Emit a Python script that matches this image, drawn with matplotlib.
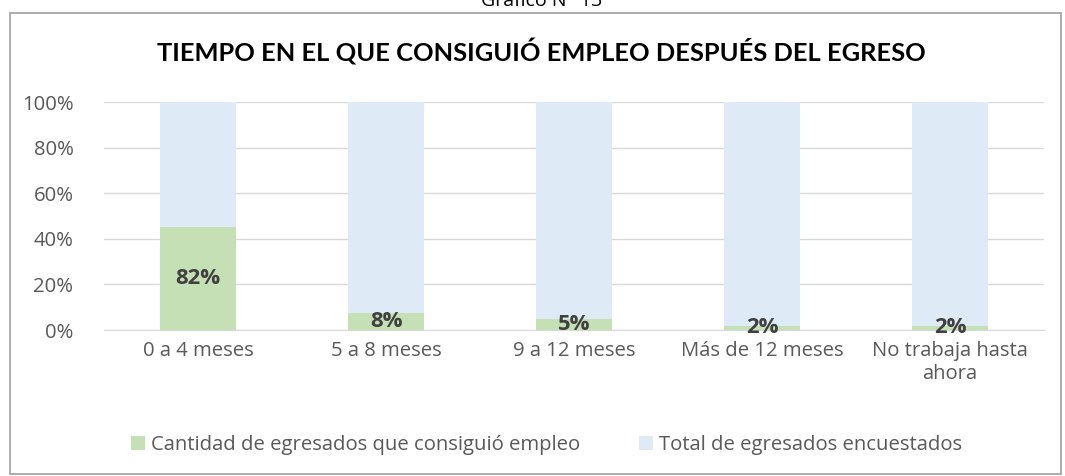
import numpy as np
import matplotlib.pyplot as plt
from matplotlib.patches import Rectangle

plt.rcParams['font.family'] = ['Open Sans', 'DejaVu Sans']

categories = ['0 a 4 meses', '5 a 8 meses', '9 a 12 meses', 'Más de 12 meses', 'No trabaja hasta\nahora']
empleo = [82, 8, 5, 2, 2]          # % que consiguió empleo
total = [100, 100, 100, 100, 100]  # total de egresados encuestados
labels = ['82%', '8%', '5%', '2%', '2%']

emp = np.array(empleo, dtype=float)
tot = np.array(total, dtype=float)
share_emp = emp / (emp + tot)
share_tot = tot / (emp + tot)

fig = plt.figure(figsize=(10.65, 4.76), dpi=100)
renderer = fig.canvas.get_renderer()


def fit_size(s, target_px, **kw):
    # font size that makes string s about target_px wide
    t = fig.text(0, 0, s, fontsize=10, **kw)
    w = t.get_window_extent(renderer).width
    t.remove()
    return 10 * target_px / w


tick_fs = fit_size('0 a 4 meses', 111)
title_fs = fit_size('TIEMPO EN EL QUE CONSIGUIÓ EMPLEO DESPUÉS DEL EGRESO', 768,
                    fontweight='bold', family=['Lato', 'DejaVu Sans'])
lab_fs = fit_size('82%', 45, fontweight='bold')

ax = fig.add_axes([0.0977, 0.3067, 0.8826, 0.479])

x = np.arange(len(categories))
w = 0.4
ax.bar(x, share_emp, width=w, color='#c5e0b4', label='Cantidad de egresados que consiguió empleo', zorder=2)
ax.bar(x, share_tot, width=w, bottom=share_emp, color='#deebf7', label='Total de egresados encuestados', zorder=2)

for xi, h, lab in zip(x, share_emp, labels):
    ax.text(xi, h / 2, lab, ha='center', va='center', fontsize=lab_fs, fontweight='bold',
            color='#404040', zorder=3)

ax.set_xlim(-0.5, len(categories) - 0.5)
ax.set_ylim(0, 1)
yt = np.arange(0, 1.01, 0.2)
ax.set_yticks(yt)
ax.set_yticklabels([f'{int(round(v * 100))}%' for v in yt])
ax.set_xticks(x)
ax.set_xticklabels(categories, linespacing=1.2)
ax.tick_params(axis='both', length=0, labelsize=tick_fs, colors='#595959')
ax.tick_params(axis='y', pad=22)
ax.tick_params(axis='x', pad=8)
ax.yaxis.grid(True, color='#d9d9d9', linewidth=1, zorder=0)
ax.set_axisbelow(True)
for s in ['top', 'right', 'left']:
    ax.spines[s].set_visible(False)
ax.spines['bottom'].set_color('#d9d9d9')

fig.text(0.508, 1 - 52 / 476, 'TIEMPO EN EL QUE CONSIGUIÓ EMPLEO DESPUÉS DEL EGRESO',
         ha='center', va='center', fontsize=title_fs, fontweight='bold', color='black',
         family=['Lato', 'DejaVu Sans'])
fig.text(0.509, 1 - 6 / 476, 'Gráfico N° 13', ha='center', va='baseline', fontsize=14, color='black')

fig.patches.append(Rectangle((9.5 / 1065, 2.5 / 476), 1051 / 1065, 461 / 476, transform=fig.transFigure,
                             fill=False, edgecolor='#a6a6a6', linewidth=1.3))

fig.legend(loc='center', bbox_to_anchor=(546.5 / 1065, 1 - 445 / 476), ncol=2, frameon=False,
           fontsize=tick_fs, labelcolor='#595959', handlelength=0.7, handleheight=0.7,
           handletextpad=0.3, columnspacing=2.9, borderpad=0, borderaxespad=0)

fig.savefig('out.png', dpi=100)
